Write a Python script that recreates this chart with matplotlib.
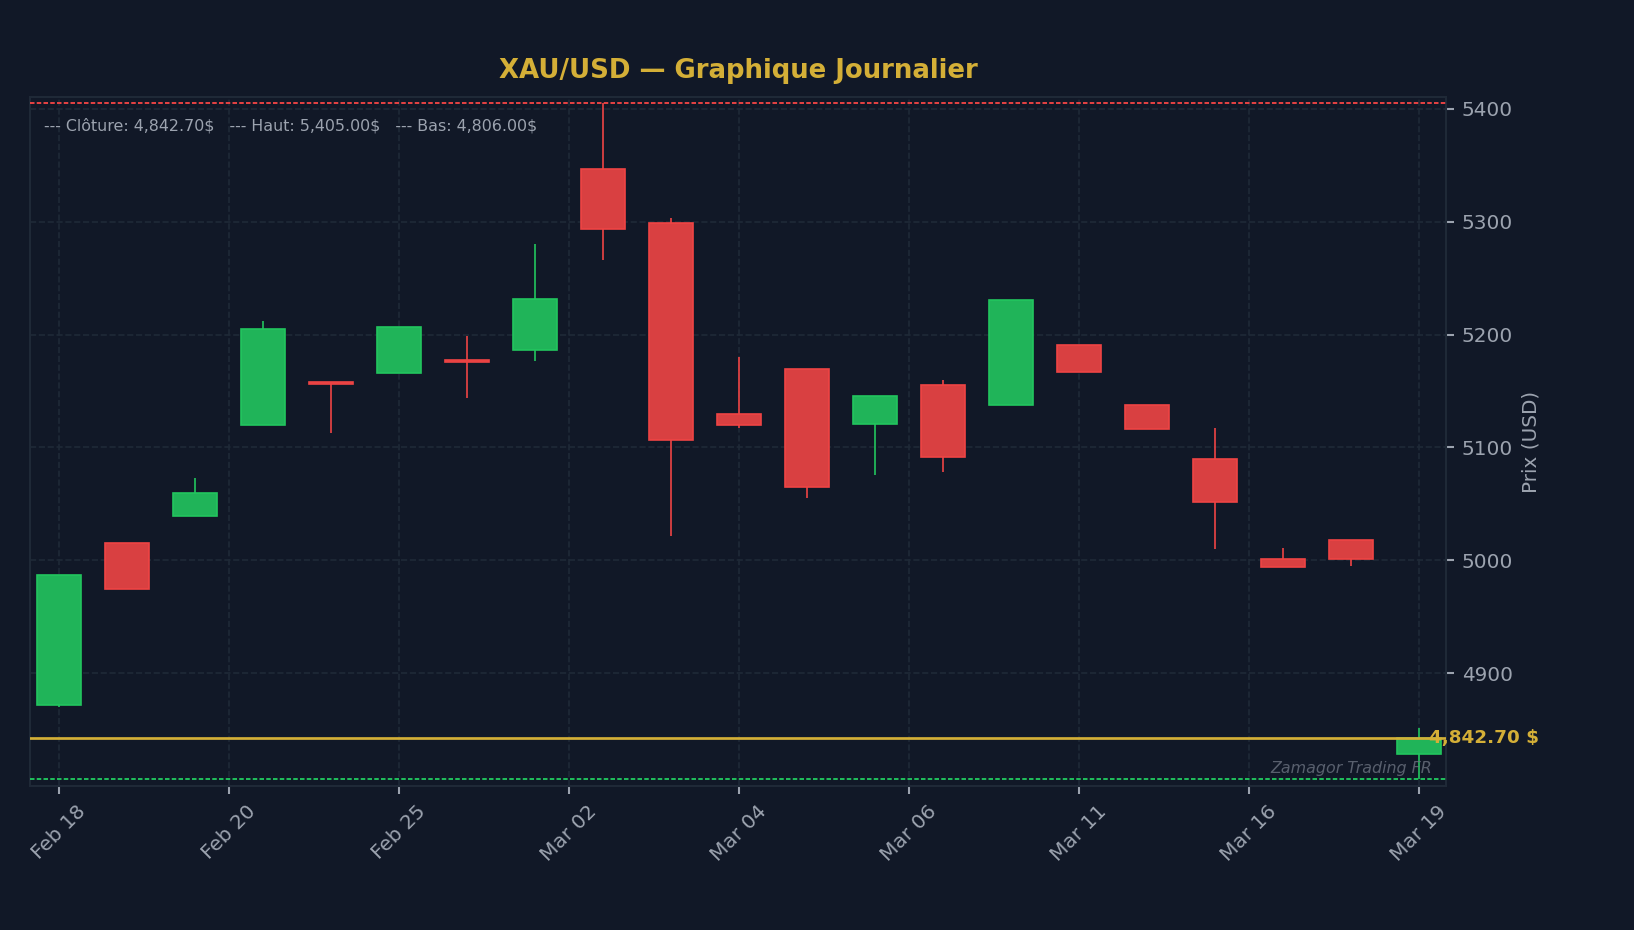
import matplotlib
matplotlib.use("Agg")
import matplotlib.pyplot as plt
import matplotlib.transforms as mtransforms
from matplotlib.patches import Rectangle

# OHLC quotidien XAU/USD
opens  = [4872, 5015, 5039, 5120, 5158, 5166, 5177, 5186, 5347, 5299, 5130,
          5170, 5121, 5155, 5138, 5191, 5138, 5090, 5001, 5018, 4828]
highs  = [4987, 5015, 5073, 5212, 5158, 5207, 5199, 5280, 5405, 5303, 5180,
          5170, 5146, 5160, 5231, 5191, 5138, 5117, 5011, 5018, 4851]
lows   = [4870, 4975, 5039, 5120, 5113, 5166, 5144, 5177, 5266, 5022, 5117,
          5055, 5076, 5078, 5138, 5167, 5116, 5010, 4994, 4995, 4806]
closes = [4987, 4975, 5060, 5205, 5156, 5207, 5176, 5232, 5294, 5107, 5120,
          5065, 5146, 5092, 5231, 5167, 5116, 5052, 4994, 5001, 4842.70]

tick_pos = [0, 2.5, 5, 7.5, 10, 12.5, 15, 17.5, 20]
tick_labels = ["Feb 18", "Feb 20", "Feb 25", "Mar 02", "Mar 04",
               "Mar 06", "Mar 11", "Mar 16", "Mar 19"]

last_close = 4842.70
period_high = 5405.00
period_low = 4806.00

BG = "#111827"
GRID = "#1f2937"
TXT = "#9ca3af"
GOLD = "#d4af37"
UP = "#22c55e"
DOWN = "#ef4444"
# corps opaques (couleur a 90% sur le fond) pour ne pas voir la meche dedans
UP_FACE = "#20b459"
DOWN_FACE = "#d94041"

fig = plt.figure(figsize=(1634 / 150, 930 / 150), dpi=150, facecolor=BG)
ax = fig.add_axes([0.0184, 0.1548, 0.8666, 0.7409])
ax.set_facecolor(BG)

width = 0.65
for i in range(len(opens)):
    o, h, l, c = opens[i], highs[i], lows[i], closes[i]
    up = c >= o
    col = UP if up else DOWN
    face = UP_FACE if up else DOWN_FACE
    ax.vlines(i, l, h, color=col, linewidth=0.8, zorder=2)
    bottom = min(o, c)
    height = max(abs(c - o), 1.2)
    ax.add_patch(Rectangle((i - width / 2, bottom), width, height,
                           facecolor=face, edgecolor=col,
                           linewidth=0.8, zorder=3))

# niveaux
ax.axhline(period_high, color=DOWN, linewidth=0.9, dashes=(2.4, 1.2), zorder=4)
ax.axhline(period_low, color=UP, linewidth=0.9, dashes=(2.4, 1.2), zorder=4)
ax.axhline(last_close, color=GOLD, linewidth=1.3, zorder=4)

ax.set_xlim(-0.43, 20.4)
ax.set_ylim(4800, 5410.6)

ax.set_xticks(tick_pos)
ax.set_xticklabels(tick_labels, rotation=45, ha="center")
ax.set_yticks([4900, 5000, 5100, 5200, 5300, 5400])

ax.yaxis.tick_right()
ax.yaxis.set_label_position("right")
ax.set_ylabel("Prix (USD)", color=TXT, fontsize=9.6)
ax.tick_params(colors=TXT, labelsize=9.6, length=4, width=1)

for sp in ax.spines.values():
    sp.set_color(GRID)
    sp.set_linewidth(1.0)

ax.grid(True, color=GRID, linestyle="--", linewidth=0.8, zorder=0)
ax.set_axisbelow(True)

ax.set_title("XAU/USD — Graphique Journalier", color=GOLD, fontsize=12.5,
             fontweight="bold", pad=9)

ax.text(0.01, 0.958,
        f"--- Clôture: {last_close:,.2f}$   --- Haut: {period_high:,.2f}$   --- Bas: {period_low:,.2f}$",
        transform=ax.transAxes, color=TXT, fontsize=7.6, va="center", ha="left")

trans = mtransforms.blended_transform_factory(ax.transAxes, ax.transData)
ax.text(0.988, last_close, f"{last_close:,.2f} $", transform=trans,
        color=GOLD, fontsize=8.8, fontweight="bold", va="center", ha="left",
        clip_on=False, zorder=6)

ax.text(0.99, 0.015, "Zamagor Trading FR", transform=ax.transAxes,
        color="#6b7280", alpha=0.8, fontsize=7.6, style="italic",
        ha="right", va="bottom")

fig.savefig("out.png", dpi=150, facecolor=BG)
